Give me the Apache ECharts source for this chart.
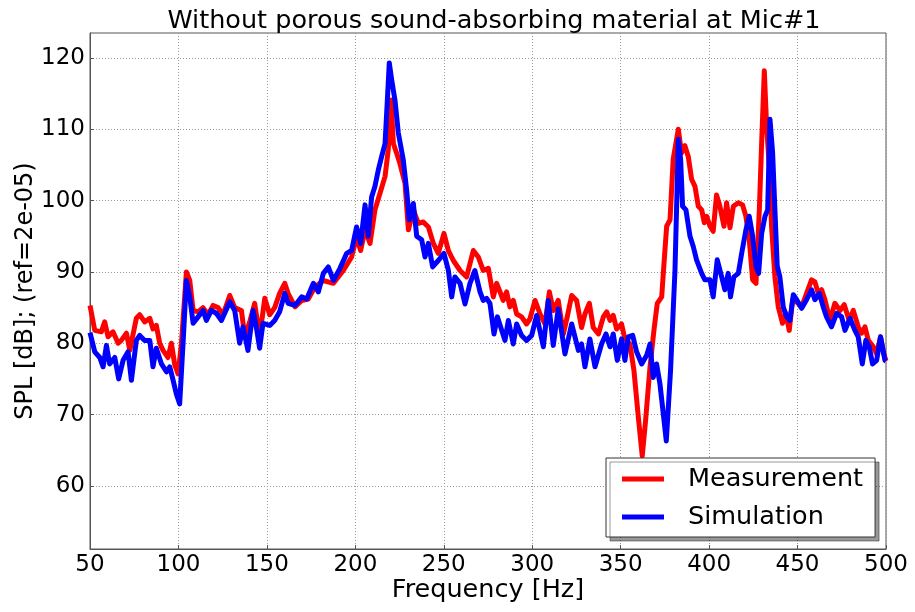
<!DOCTYPE html>
<html>
<head>
<meta charset="utf-8">
<script src="https://cdn.jsdelivr.net/npm/echarts@6/dist/echarts.min.js"></script>
<style>
  html, body { margin: 0; padding: 0; background: #fff; }
  #chart { width: 915px; height: 612px; }
</style>
</head>
<body>
<div id="chart"></div>
<script>
// [frequency Hz, SPL dB]
const measurement = [
  [50, 85.3], [52.7, 81.8], [56.4, 81.6], [58.3, 83], [60.2, 80.9], [63, 81.6], [65.9, 80], [67.7, 80.4],
  [70.6, 81.4], [72.5, 79], [76.2, 83.5], [78.1, 84], [80.9, 83], [83.8, 83.5], [85.6, 82], [87.5, 82.5],
  [89.4, 80], [91.3, 79], [94.1, 78], [96, 80], [97.9, 77], [99.8, 75.7], [101.7, 80], [104.5, 90],
  [106.4, 88.8], [108.3, 84.6], [111.1, 84.4], [113.9, 85], [116.7, 84], [119.6, 85.3], [122.4, 85], [125.2, 84],
  [129, 86.7], [131.8, 85], [135.6, 84.6], [137.5, 80.9], [140.3, 83], [143.1, 85.6], [145.9, 80.9], [148.8, 86.3],
  [151.6, 84], [154.4, 85], [157.2, 87], [160.1, 88.4], [162, 87], [165.9, 85.1], [169.7, 86], [173.4, 86.2],
  [177.2, 87.9], [181.9, 88.8], [187.6, 88.4], [193.2, 90.2], [197.9, 92.1], [200.7, 94.9], [203, 93], [205.5, 95.9],
  [208.3, 94], [211.1, 98.7], [213.9, 101], [216.8, 103.4], [218.6, 107.1], [220.2, 114.1], [221.5, 108], [223.4, 106.6],
  [225.2, 105.2], [228.1, 102.4], [230, 95.9], [232.8, 98.7], [235.6, 96.8], [238.4, 97], [241.3, 96.3], [244.1, 94],
  [246.9, 92.6], [250.1, 95.4], [252.6, 93], [255.4, 91.6], [259.2, 90.2], [262.9, 89.3], [266.7, 93], [269.5, 92.1],
  [272.3, 90.2], [275.2, 90.5], [278, 86.5], [279.9, 88.4], [281.8, 87.2], [283.6, 86], [285.5, 87.2], [287.4, 85.1],
  [289.3, 86], [291.2, 84.1], [294, 83.7], [296.8, 82.7], [298.7, 83.4], [301.6, 86], [304.4, 84.1], [307.2, 82.7],
  [309.7, 87.2], [311.9, 84.6], [314.7, 86], [317.6, 81.3], [319.8, 83.7], [322.3, 86.7], [325.1, 86], [327.9, 82.2],
  [329.8, 84.1], [332.3, 85.6], [334.5, 82.2], [337.4, 81.3], [340.2, 83.7], [342.1, 84.4], [344, 83.2], [345.8, 83.9],
  [347.7, 82], [350.5, 82.7], [352.4, 80.6], [355.2, 79.9], [357.5, 76.2], [360, 69.6], [362.2, 64.2], [364.1, 69.2],
  [366.6, 76.7], [368.8, 81.8], [370.7, 85.6], [373.2, 86.5], [374.1, 89.8], [376, 96.4], [377.9, 97.3], [379.7, 105.8],
  [382.6, 110], [384.4, 106.7], [386.3, 107.7], [388.2, 106.2], [390.1, 103], [392, 102], [393.9, 99.2], [395.8, 98.7],
  [397.3, 96.9], [398.6, 97.8], [400.5, 96.4], [402.3, 95.7], [404.2, 100.8], [406.1, 99.2], [408.4, 96.4], [409.9, 99.7],
  [411.8, 96.2], [413.7, 99.2], [416.5, 99.7], [418.9, 99.4], [420.8, 97.8], [422.7, 94.5], [424.6, 88.9], [426.5, 88.4],
  [428.4, 98.7], [429.7, 108.1], [431.2, 118.2], [432.5, 110.5], [434, 104.8], [435.3, 96.4], [437.2, 89.3], [439.1, 85.1],
  [441.5, 82.8], [443.4, 84.2], [445.3, 81.8], [447.2, 86.1], [449.5, 85.8], [452.3, 85.1], [455.1, 87], [457.9, 88.9],
  [459.8, 88.6], [461.7, 87], [463.6, 87.5], [465.5, 86.1], [468.3, 83.2], [471.1, 85.6], [474, 84.6], [476.4, 85.4],
  [479.2, 83.2], [481.5, 84.6], [484.3, 82.3], [486.2, 81.4], [488.1, 82.3], [490, 80.4], [492.8, 79.5], [494.7, 78.5],
  [496.9, 80.9], [498.8, 78.5], [500, 77.5]
];

const simulation = [
  [50, 81.5], [52.7, 78.8], [55.5, 78], [57.4, 76.7], [59.3, 79.7], [61.1, 77.1], [64, 78], [66.2, 75],
  [68.7, 77.6], [71.5, 78.8], [73.4, 74.8], [76.2, 80.4], [78.1, 81.1], [80.9, 80.4], [83.8, 80.4], [85.6, 76.7],
  [87.5, 79.3], [90.4, 77.1], [93.2, 76], [95.1, 76.7], [97, 74.8], [98.8, 72.9], [100.7, 71.5], [102.6, 80],
  [104.5, 88.8], [106.4, 86.5], [108.3, 82.8], [111.1, 83.7], [113.9, 84.6], [115.8, 83.2], [118.6, 84.6], [121.4, 84.2],
  [124.3, 83.2], [129, 85.8], [131.8, 84.6], [134.6, 80], [136.5, 82.3], [139.3, 79], [142.2, 84.6], [144, 82.3],
  [145.9, 79.3], [147.8, 82.8], [151.6, 82.5], [154.4, 83.2], [157.2, 84.4], [160.1, 87], [162, 85.6], [165.9, 85.3],
  [169.7, 86.5], [172.5, 86.2], [176.3, 88.4], [179.1, 87.2], [181.9, 89.8], [184.7, 90.7], [187.6, 88.8], [191.3, 90.5],
  [195.1, 92.6], [197.9, 93], [200.7, 96.3], [203, 94], [205.5, 99.4], [207.3, 95], [209.2, 100.5], [211.1, 102],
  [213, 104.3], [214.9, 106.2], [216.8, 108], [218.1, 114.1], [219.2, 119.3], [220.5, 117], [222.4, 114.1], [224.3, 109.5],
  [227.1, 105.7], [229, 101.5], [230.5, 97.3], [232.8, 99.6], [234.7, 95], [237.5, 94.5], [239.4, 92.1], [241.3, 94],
  [243.7, 90.7], [246.9, 91.6], [250.1, 92.6], [252.6, 90.2], [254.5, 86.5], [256.3, 89.3], [259.2, 88.4], [262, 85.5],
  [264.8, 88.4], [267.6, 90.2], [270.5, 87.2], [272.3, 86], [274.2, 86.3], [276.1, 85.6], [278.4, 81.3], [280.3, 83.7],
  [282.1, 82.3], [284.6, 80.4], [286.5, 83.2], [289.3, 79.9], [291.2, 82.7], [294, 81.1], [296.8, 80.4], [299.7, 81.1],
  [302.5, 83.9], [306.3, 79.5], [309.1, 86], [311.9, 79.7], [314.7, 84.8], [318.5, 78.5], [322.3, 82.7], [326.1, 79],
  [327.9, 79.9], [329.8, 76.7], [332.6, 80.6], [335.5, 76.7], [339.2, 79.9], [341.7, 81.3], [344, 79.5], [345.8, 81.3],
  [348.1, 77.6], [350.5, 80.6], [352.4, 77.6], [354.3, 80.9], [356.8, 81.1], [359, 78.8], [361.9, 77.1], [364.7, 78.3],
  [366.6, 79.9], [368.4, 75.2], [370.3, 77.1], [372.2, 74.3], [374.1, 70.1], [375.8, 66.3], [378.2, 76.2], [380.7, 90.2],
  [382.6, 108.6], [383.9, 105.8], [385, 99.2], [386.9, 98.7], [389.2, 95], [391, 93.6], [392.9, 91.7], [395.8, 89.8],
  [397.6, 88.9], [400.5, 88.9], [402.3, 86.5], [404.6, 91.7], [407.1, 89.3], [408.9, 87.5], [410.8, 89.8], [412.1, 86.5],
  [414, 89.3], [416.5, 89.8], [418.4, 92.6], [420.8, 95.9], [422.7, 97.8], [424.6, 95], [426.5, 90.8], [428, 89.8],
  [429.7, 95.4], [431.6, 97.8], [433.1, 98.7], [434.4, 111.4], [435.9, 106.7], [437.2, 98.7], [438.5, 90.8], [440, 89.3],
  [441.9, 85.1], [443.8, 83.7], [445.7, 83.2], [447.6, 86.8], [449.5, 86.1], [452.3, 84.9], [455.1, 86.1], [457.9, 87.5],
  [459.8, 86.1], [462.3, 87], [464.5, 85.1], [466.4, 83.7], [469.2, 82.3], [472.1, 84.2], [474.9, 83.7], [476.8, 81.8],
  [479.6, 83.5], [482.4, 81.8], [484.3, 80.9], [486.6, 77.1], [488.6, 80.4], [490.5, 79.5], [492.4, 77.1], [494.7, 77.6],
  [496.9, 80.9], [499.4, 77.6], [500, 77.5]
];

const yTicks = [60, 70, 80, 90, 100, 110, 120];

const font = "DejaVu Sans";
const chart = echarts.init(document.getElementById("chart"), null, { renderer: "canvas" });

chart.setOption({
  animation: false,
  backgroundColor: "#fff",
  textStyle: { fontFamily: font },
  title: {
    text: "Without porous sound-absorbing material at Mic#1",
    left: 489,
    textAlign: "center",
    top: 3,
    textStyle: { fontFamily: font, fontSize: 25.5, fontWeight: "normal", color: "#000" }
  },
  grid: { left: 90, right: 29, top: 33, bottom: 63, show: true, borderColor: "#555", borderWidth: 1 },
  legend: {
    orient: "vertical",
    left: 606,
    top: 458,
    padding: [8, 12, 7, 16],
    itemGap: 12,
    itemWidth: 42,
    itemHeight: 5,
    icon: "rect",
    backgroundColor: "#fff",
    borderColor: "#333",
    borderWidth: 1,
    borderRadius: 0,
    shadowColor: "rgba(0,0,0,0.4)",
    shadowBlur: 0,
    shadowOffsetX: 4,
    shadowOffsetY: 4,
    textStyle: { fontFamily: font, fontSize: 25.5, color: "#000", padding: [0, 0, 0, 19] }
  },
  xAxis: {
    type: "value",
    min: 50,
    max: 500,
    interval: 50,
    name: "Frequency [Hz]",
    nameLocation: "middle",
    nameGap: 28,
    nameMoveOverlap: false,
    nameTextStyle: { fontFamily: font, fontSize: 25.5, color: "#000" },
    axisLine: { lineStyle: { color: "#555" } },
    axisTick: { inside: true, length: 4, lineStyle: { color: "#555" } },
    axisLabel: { fontFamily: font, fontSize: 23, color: "#000", margin: 5 },
    splitLine: { show: true, lineStyle: { type: [1, 2], color: "#999" } }
  },
  yAxis: {
    type: "value",
    min: 51.15,
    max: 123.5,
    name: "SPL [dB]; (ref=2e-05)",
    nameLocation: "middle",
    nameGap: 52,
    nameMoveOverlap: false,
    nameTextStyle: { fontFamily: font, fontSize: 24, color: "#000" },
    axisLine: { show: true, lineStyle: { color: "#555" } },
    axisTick: { show: true, inside: true, length: 4, customValues: yTicks, lineStyle: { color: "#555" } },
    axisLabel: { fontFamily: font, fontSize: 23, color: "#000", margin: 5, customValues: yTicks },
    splitLine: { show: true, lineStyle: { type: [1, 2], color: "#999" } }
  },
  series: [
    {
      name: "Measurement",
      type: "line",
      data: measurement,
      symbol: "none",
      color: "#ff0000",
      lineStyle: { width: 5, color: "#ff0000", join: "round" }
    },
    {
      name: "Simulation",
      type: "line",
      data: simulation,
      symbol: "none",
      color: "#0000ff",
      lineStyle: { width: 5, color: "#0000ff", join: "round" }
    }
  ]
});
</script>
</body>
</html>
